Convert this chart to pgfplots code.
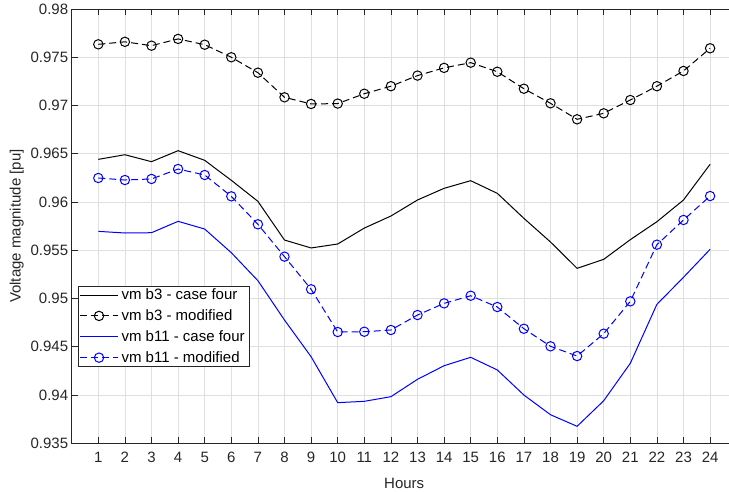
\documentclass[border=0pt]{standalone}
\usepackage{fontspec}
\setmainfont{Liberation Sans}
\usepackage{pgfplots}
\pgfplotsset{compat=1.18}
\usetikzlibrary{calc}
\definecolor{axgray}{HTML}{262626}
\definecolor{gridgray}{HTML}{DFDFDF}
\newcommand{\mfont}{\fontsize{15bp}{18bp}\selectfont}
\begin{document}
\begin{tikzpicture}
\begin{axis}[
  scale only axis,
  width=665bp, height=434.3bp,
  xmin=0, xmax=25,
  ymin=0.935, ymax=0.98,
  xtick={1,...,24},
  ytick={0.935,0.94,0.945,0.95,0.955,0.96,0.965,0.97,0.975,0.98},
  yticklabels={0.935,0.94,0.945,0.95,0.955,0.96,0.965,0.97,0.975,0.98},
  grid=major,
  grid style={line width=0.6bp, draw=gridgray},
  axis line style={line width=0.7bp, draw=axgray},
  tick style={line width=0.6bp, draw=axgray},
  tick align=inside,
  major tick length=6bp,
  ticklabel style={font=\mfont, text=axgray},
  xticklabel style={yshift=-5bp},
  /pgf/number format/assume math mode=true,
  xlabel={Hours}, ylabel={Voltage magnitude [pu]},
  label style={font=\mfont, text=axgray},
  xlabel style={yshift=-9bp},
  every axis plot/.append style={line width=1bp},
  legend cell align=left,
  legend style={
    font=\mfont, text=black,
    at={(0.009,0.1764)}, anchor=south west,
    draw=axgray, line width=0.7bp, fill=white,
    inner sep=1.5bp, row sep=6.5bp,
    nodes={inner xsep=3bp, inner ysep=1bp},
  },
  legend image code/.code={
    \draw[mark repeat=2,mark phase=2,#1]
      plot coordinates {(0bp,0bp) (19bp,0bp) (38bp,0bp)};
  },
]
\addplot[black, mark=none] coordinates {
 (1,0.96442)(2,0.9649)(3,0.96418)(4,0.96532)(5,0.96432)(6,0.96225)
 (7,0.96007)(8,0.95606)(9,0.95524)(10,0.95565)(11,0.9573)(12,0.95855)
 (13,0.96021)(14,0.96142)(15,0.96221)(16,0.9609)(17,0.95831)(18,0.95586)
 (19,0.95313)(20,0.95406)(21,0.9561)(22,0.95796)(23,0.96021)(24,0.96391)};
\addlegendentry{vm b3 - case four}
\addplot[black, dash pattern=on 7bp off 4bp, mark=o, mark size=4.7bp,
  mark options={solid}] coordinates {
 (1,0.97634)(2,0.9766)(3,0.9762)(4,0.9769)(5,0.9763)(6,0.9750)
 (7,0.9734)(8,0.97085)(9,0.97016)(10,0.9702)(11,0.97122)(12,0.9720)
 (13,0.9731)(14,0.9739)(15,0.97444)(16,0.9735)(17,0.97174)(18,0.97023)
 (19,0.96857)(20,0.96919)(21,0.97057)(22,0.9720)(23,0.97358)(24,0.97593)};
\addlegendentry{vm b3 - modified}
\addplot[blue, mark=none] coordinates {
 (1,0.95696)(2,0.95679)(3,0.95682)(4,0.958)(5,0.9572)(6,0.95475)
 (7,0.95185)(8,0.94777)(9,0.94397)(10,0.93921)(11,0.93935)(12,0.93983)
 (13,0.94163)(14,0.94304)(15,0.94391)(16,0.9426)(17,0.94)(18,0.93796)
 (19,0.93676)(20,0.93941)(21,0.94329)(22,0.9494)(23,0.9522)(24,0.9551)};
\addlegendentry{vm b11 - case four}
\addplot[blue, dash pattern=on 7bp off 4bp, mark=o, mark size=4.7bp,
  mark options={solid}] coordinates {
 (1,0.96249)(2,0.96228)(3,0.96239)(4,0.96342)(5,0.9628)(6,0.96059)
 (7,0.95769)(8,0.95434)(9,0.95096)(10,0.94653)(11,0.94656)(12,0.94674)
 (13,0.94829)(14,0.9495)(15,0.95029)(16,0.94912)(17,0.94687)(18,0.94505)
 (19,0.94404)(20,0.94636)(21,0.94971)(22,0.95558)(23,0.95814)(24,0.96062)};
\addlegendentry{vm b11 - modified}
\end{axis}
\pgfresetboundingbox
\path[use as bounding box]
  ($(current axis.south west)+(-71.7bp,-48.7bp)$) rectangle
  ($(current axis.south west)+(657.3bp,443.3bp)$);
\end{tikzpicture}
\end{document}
